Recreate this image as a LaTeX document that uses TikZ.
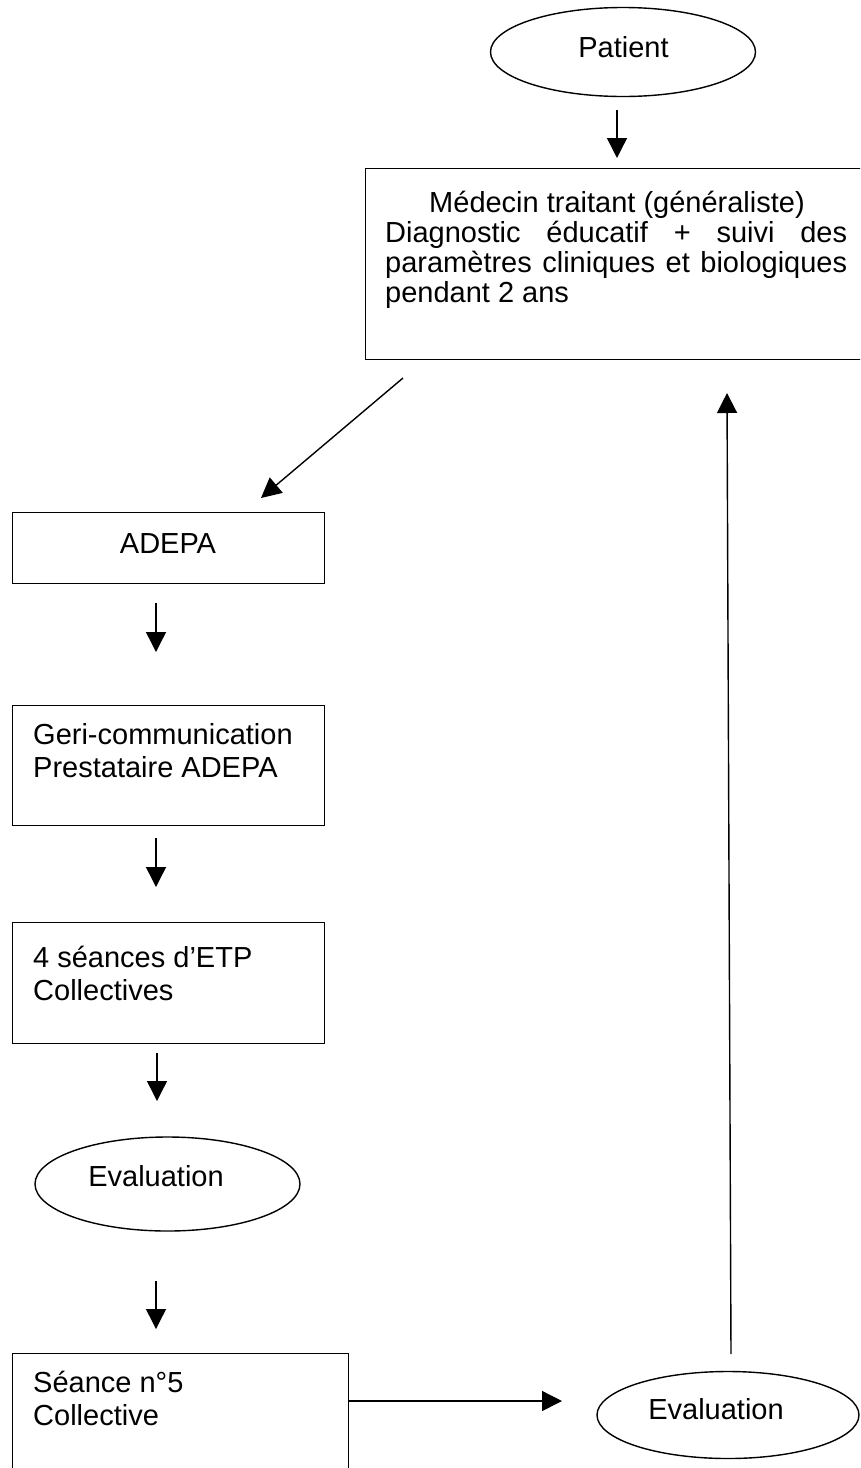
\documentclass[tikz,border=0pt]{standalone}
\usepackage{fontspec}
\setmainfont{Liberation Sans}
\usetikzlibrary{arrows.meta,shapes.geometric}
\begin{document}
\begin{tikzpicture}[x=1pt,y=-1pt,
  box/.style={draw, line width=1.4pt, rectangle, inner sep=0pt, anchor=north west},
  oval/.style={draw, line width=1.4pt, ellipse, inner sep=0pt},
  lbl/.style={anchor=base west, inner sep=0pt, font=\fontsize{29}{30}\selectfont},
  clbl/.style={anchor=base, inner sep=0pt, font=\fontsize{29}{30}\selectfont},
  arr/.style={line width=1.4pt, -{Triangle[length=20pt,width=20pt]}}]
\useasboundingbox (0,0) rectangle (860,1468);
\clip (0,0) rectangle (860,1468);

% ellipses
\node[oval, minimum width=265pt, minimum height=89pt] (patient) at (623,52) {};
\node[clbl] (patientT) at (623.5,57) {Patient};
\node[oval, minimum width=265pt, minimum height=94pt] (eval1) at (167.5,1184) {};
\node[clbl] (eval1T) at (156,1186) {Evaluation};
\node[oval, minimum width=262pt, minimum height=87pt] (eval2) at (728,1415) {};
\node[clbl] (eval2T) at (716,1419) {Evaluation};

% boxes
\node[box, minimum width=515pt, minimum height=191pt] (medecin) at (365,168) {};
\node[clbl] (medT1) at (617,212) {Médecin traitant (généraliste)};
\node[lbl] (medT2) at (385,242) {\makebox[462pt][s]{Diagnostic éducatif + suivi des}};
\node[lbl] (medT3) at (385,272) {\makebox[462pt][s]{paramètres cliniques et biologiques}};
\node[lbl] (medT4) at (385,302) {pendant 2 ans};

\node[box, minimum width=312pt, minimum height=71pt] (adepa) at (12,512) {};
\node[clbl] (adepaT) at (168,553) {ADEPA};

\node[box, minimum width=312pt, minimum height=120pt] (geri) at (12,705) {};
\node[lbl] (geriT1) at (33,744) {Geri-communication};
\node[lbl] (geriT2) at (33,777) {Prestataire ADEPA};

\node[box, minimum width=312pt, minimum height=121pt] (etp) at (12,922) {};
\node[lbl] (etpT1) at (33,967) {4 séances d’ETP};
\node[lbl] (etpT2) at (33,1000) {Collectives};

\node[box, minimum width=336pt, minimum height=150pt] (seance) at (12,1353) {};
\node[lbl] (seanceT1) at (33,1392) {Séance n°5};
\node[lbl] (seanceT2) at (33,1425) {Collective};

% connector end points
\coordinate (a1s) at (617,110);  \coordinate (a1e) at (617,158);
\coordinate (a2s) at (403,378);  \coordinate (a2e) at (261,498);
\coordinate (a3s) at (156,603);  \coordinate (a3e) at (156,652);
\coordinate (a4s) at (156,838);  \coordinate (a4e) at (156,887);
\coordinate (a5s) at (157,1053); \coordinate (a5e) at (157,1101);
\coordinate (a6s) at (156,1281); \coordinate (a6e) at (156,1329);
\coordinate (a7s) at (348,1401); \coordinate (a7e) at (562,1401);
\coordinate (a8s) at (731,1354); \coordinate (a8e) at (727,393);

\draw[arr] (a1s) -- (a1e);
\draw[arr] (a2s) -- (a2e);
\draw[arr] (a3s) -- (a3e);
\draw[arr] (a4s) -- (a4e);
\draw[arr] (a5s) -- (a5e);
\draw[arr] (a6s) -- (a6e);
\draw[arr] (a7s) -- (a7e);
\draw[arr] (a8s) -- (a8e);
\end{tikzpicture}
\end{document}
